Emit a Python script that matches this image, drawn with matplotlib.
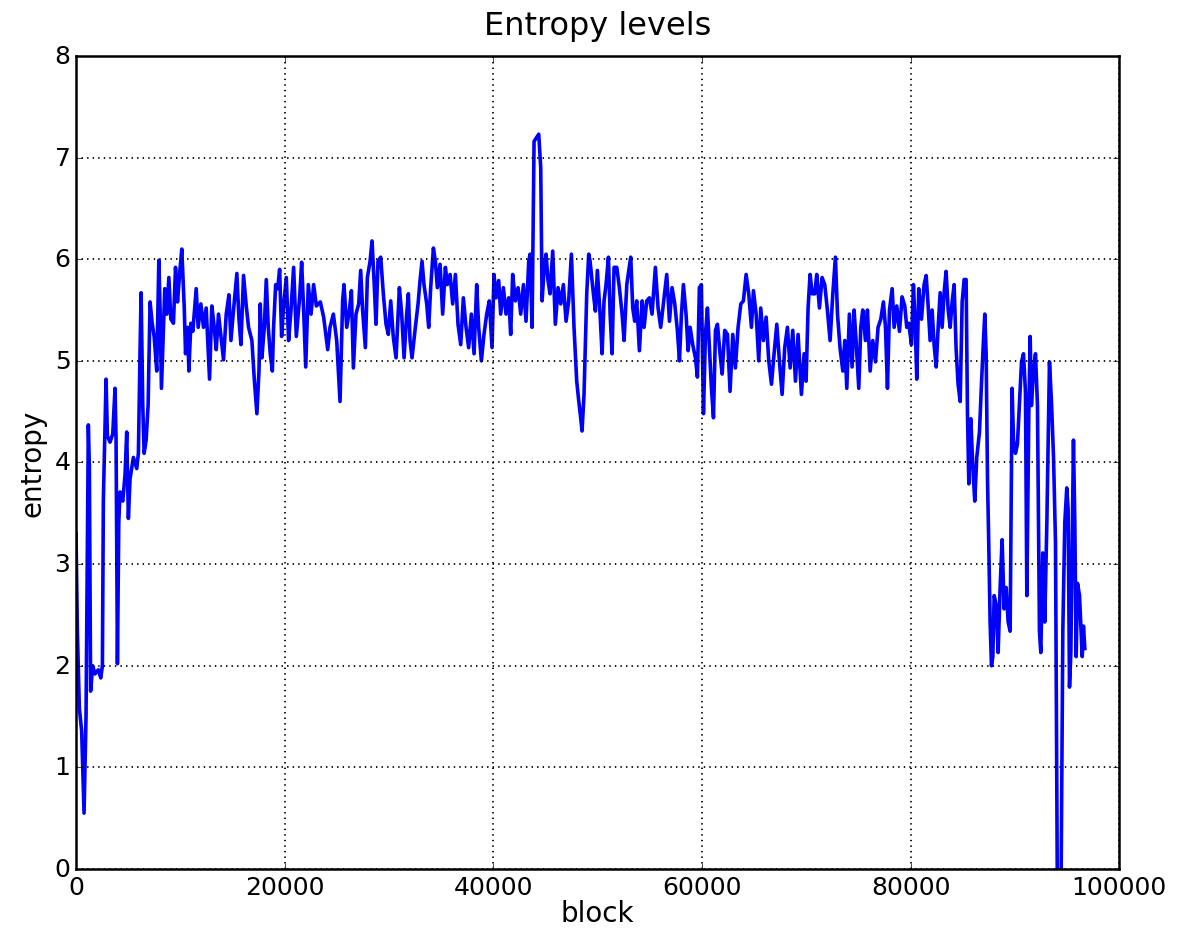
import matplotlib
matplotlib.use('Agg')
import matplotlib.pyplot as plt

# block positions and entropy values
blocks = [
    0, 130, 320, 540, 770, 960, 1180, 1280, 1400, 1600, 1820, 2140, 2370, 2530,
    2620, 2750, 2880, 3010, 3260, 3520, 3740, 3840, 3970, 4100, 4220, 4480,
    4700, 4860, 5020, 5180, 5500, 5820, 5980, 6140, 6240, 6400, 6530, 6720,
    6910, 7100, 7300, 7490, 7740, 7940, 8060, 8190, 8380, 8510, 8700, 8900,
    9090, 9340, 9540, 9730, 9920, 10140, 10370, 10500, 10690, 10820, 11010,
    11200, 11520, 11710, 11970, 12220, 12480, 12800, 13020, 13250, 13440,
    13660, 13890, 14140, 14400, 14660, 14850, 15100, 15420, 15620, 15810,
    16060, 16320, 16540, 16860, 17090, 17340, 17540, 17660, 17820, 18050,
    18240, 18430, 18620, 18820, 18940, 19140, 19330, 19520, 19710, 19900,
    20160, 20380, 20610, 20860, 21120, 21440, 21630, 21820, 22020, 22270,
    22530, 22780, 23040, 23420, 23740, 24130,
    24350, 24670, 24990, 25310, 25560, 25690, 25950, 26200, 26400, 26590,
    26840, 27100, 27290, 27480, 27740, 27930, 28190, 28380, 28570, 28760,
    28950, 29210, 29460, 29720, 29940, 30170, 30420, 30680, 31000, 31220,
    31450, 31700, 31860, 32020, 32210, 32530, 32790, 32980, 33170, 33360,
    33620, 33810, 34000, 34260, 34450, 34640, 34900, 35150, 35410, 35600,
    35860, 36110, 36370, 36620, 36880, 37130, 37390, 37640, 37900, 38160,
    38410, 38600, 38860, 39110, 39370, 39620, 39880, 40070, 40270, 40520,
    40710, 40970, 41220, 41480, 41670, 41860, 42120, 42380, 42630, 42890,
    43140, 43400, 43530, 43720, 43910, 44170, 44360, 44550, 44680, 44870,
    45060, 45250, 45440, 45700, 45950, 46210, 46470, 46720, 46980, 47230,
    47490, 47740, 48000, 48190, 48380, 48510, 48700, 48960, 49150,
    49280, 49600, 49790, 49980, 50240, 50430, 50620, 50810, 51040, 51200,
    51390, 51580, 51840, 52090, 52350, 52540, 52800, 52990, 53180, 53370,
    53560, 53750, 54010, 54270, 54460, 54710, 54970, 55220, 55540, 55800,
    56050, 56310, 56630, 56890, 57140, 57400, 57650, 57850, 58040, 58230,
    58480, 58680, 58870, 59120, 59380, 59570, 59760, 59950, 60150, 60340,
    60530, 60720, 60910, 61110, 61300, 61490, 61740, 61940, 62190, 62450,
    62700, 62960, 63210, 63470, 63730, 63980, 64240, 64490, 64750, 64940,
    65200, 65450, 65640, 65900, 66160, 66410, 66670, 66920, 67180, 67430,
    67690, 67940, 68200, 68460, 68710, 68970, 69220, 69540, 69800, 69990,
    70180, 70370, 70570, 70820, 71010, 71270, 71520, 71780, 72040, 72290,
    72550, 72800, 73000,
    73250, 73510, 73700, 73890, 74140, 74400, 74590, 74780, 75040, 75230,
    75420, 75680, 75870, 76130, 76380, 76640, 76890, 77150, 77400, 77600,
    77790, 77980, 78240, 78430, 78680, 78940, 79190, 79450, 79640, 79830,
    80090, 80280, 80470, 80600, 80790, 81050, 81300, 81500, 81690, 81880,
    82070, 82260, 82460, 82650, 82840, 83030, 83220, 83410, 83610, 83800,
    83990, 84180, 84370, 84560, 84760, 84950, 85140, 85330, 85460, 85590,
    85780, 85970, 86160, 86350, 86610, 86800, 86990, 87120, 87250, 87380,
    87500, 87630, 87760, 87890, 88020, 88210, 88400, 88590, 88780, 88970,
    89170, 89360, 89550, 89740, 89870, 90060, 90250, 90450, 90640, 90830,
    91020, 91150, 91340, 91470, 91590, 91790, 91980, 92170, 92360, 92490,
    92680, 92870, 93070, 93320, 93510, 93710, 93900, 94090, 94220, 94410,
    94600, 94790, 94980, 95110, 95240, 95370, 95500, 95620, 95750, 95880,
    96010, 96200, 96330, 96460, 96580, 96710,
]
entropy = [
    3.3, 2.34, 1.58, 1.36, 0.55, 1.5, 4.37, 3.96, 1.75, 2.0, 1.92, 1.96, 1.88,
    2.0, 3.62, 4.22, 4.82, 4.26, 4.2, 4.28, 4.73, 4.22, 2.02, 3.41, 3.71,
    3.62, 3.88, 4.3, 3.45, 3.84, 4.05, 3.94, 4.09, 5.11, 5.67, 4.56, 4.09,
    4.22, 4.56, 5.58, 5.37, 5.24, 4.9, 5.99, 5.5, 4.73, 5.33, 5.71, 5.46,
    5.82, 5.41, 5.37, 5.92, 5.58, 5.84, 6.1, 5.54, 5.07, 5.33, 4.9, 5.37,
    5.29, 5.71, 5.33, 5.56, 5.33, 5.52, 4.82, 5.54, 5.33, 5.11, 5.46, 5.24,
    5.01, 5.46, 5.65, 5.2, 5.5, 5.86, 5.41, 5.16, 5.84, 5.54, 5.33, 5.2,
    4.82, 4.48, 4.9, 5.56, 5.03, 5.33, 5.8, 5.33, 5.07, 4.9, 5.33, 5.75,
    5.71, 5.9, 5.24, 5.54, 5.82, 5.2, 5.5, 5.92, 5.24, 5.63, 5.97, 5.5,
    4.94, 5.75, 5.46, 5.75, 5.54, 5.58, 5.43, 5.11,
    5.33, 5.46, 5.2, 4.6, 5.59, 5.75, 5.33, 5.49, 5.69, 4.93, 5.46, 5.56,
    5.89, 5.49, 5.13, 5.82, 5.98, 6.18, 5.79, 5.36, 5.98, 6.02, 5.66, 5.36,
    5.26, 5.59, 5.23, 5.03, 5.72, 5.46, 5.03, 5.46, 5.66, 5.2, 5.03, 5.33,
    5.56, 5.79, 5.98, 5.75, 5.56, 5.33, 5.72, 6.11, 5.98, 5.72, 5.95, 5.46,
    5.92, 5.75, 5.85, 5.56, 5.85, 5.36, 5.16, 5.62, 5.33, 5.13, 5.46, 5.07,
    5.75, 5.33, 5.0, 5.26, 5.46, 5.59, 5.13, 5.85, 5.62, 5.79, 5.46, 5.72,
    5.46, 5.62, 5.26, 5.85, 5.59, 5.72, 5.46, 5.75, 5.39, 5.98, 6.05, 5.33,
    7.16, 7.2, 7.23, 6.9, 5.59, 5.89, 6.05, 5.79, 5.66, 6.08, 5.36, 5.72,
    5.56, 5.75, 5.39, 5.59, 6.05, 5.33, 4.8, 4.61, 4.44, 4.31, 4.67, 5.66,
    6.05,
    5.98, 5.66, 5.49, 5.89, 5.46, 5.07, 5.59, 5.75, 6.02, 5.46, 5.07, 5.92,
    5.92, 5.72, 5.46, 5.2, 5.75, 5.89, 6.02, 5.52, 5.39, 5.59, 5.1, 5.59,
    5.33, 5.59, 5.62, 5.46, 5.92, 5.52, 5.33, 5.56, 5.85, 5.39, 5.72, 5.56,
    5.3, 5.0, 5.46, 5.75, 5.46, 5.1, 5.33, 5.16, 5.03, 4.84, 5.72, 5.75,
    4.48, 5.26, 5.52, 5.13, 4.74, 4.44, 5.3, 5.36, 5.07, 4.87, 5.3, 5.26,
    4.7, 5.26, 4.93, 5.33, 5.56, 5.59, 5.85, 5.66, 5.33, 5.69, 5.46, 5.0,
    5.52, 5.2, 5.43, 5.0, 4.77, 5.07, 5.36, 5.0, 4.67, 5.13, 5.33, 4.93,
    5.3, 4.8, 5.26, 4.67, 5.07, 4.8, 5.52, 5.85, 5.66, 5.66, 5.85, 5.52,
    5.82, 5.75, 5.49, 5.2, 5.66, 6.02, 5.46,
    5.12, 4.9, 5.2, 4.73, 5.46, 4.94, 5.5, 5.2, 4.73, 5.33, 5.5, 5.2, 5.5,
    4.9, 5.2, 4.99, 5.33, 5.41, 5.58, 5.33, 4.73, 5.5, 5.71, 5.33, 5.54,
    5.29, 5.63, 5.54, 5.33, 5.37, 5.16, 5.75, 5.29, 4.82, 5.71, 5.41, 5.75,
    5.84, 5.54, 5.2, 5.5, 5.16, 4.94, 5.33, 5.67, 5.33, 5.67, 5.88, 5.5,
    5.33, 5.58, 5.75, 5.12, 4.77, 4.6, 5.58, 5.8, 5.8, 4.48, 3.79, 4.43,
    3.96, 3.62, 4.05, 4.3, 4.77, 5.2, 5.46, 5.07, 3.84, 3.2, 2.43, 2.0,
    2.09, 2.69, 2.6, 2.13, 2.77, 3.24, 2.56, 2.77, 2.43, 2.34, 4.73, 4.22,
    4.09, 4.18, 4.6, 4.99, 5.07, 4.69, 2.69, 4.48, 5.24, 4.56, 4.9, 5.07,
    4.56, 2.34, 2.13, 3.11, 2.43, 3.41, 4.99, 4.6, 4.05, 3.2, -0.5, -0.5,
    -0.5, 2.34, 3.41, 3.75, 3.54, 1.79, 2.13, 3.2, 4.22, 3.41, 2.09, 2.81,
    2.69, 2.39, 2.09, 2.39, 2.17,
]

plt.style.use('classic')
fig = plt.figure(figsize=(11.99, 9.37), dpi=100)
ax = fig.add_axes([0.0634, 0.0715, 0.87, 0.8677])
ax.plot(blocks, entropy, color='#0000ff', linewidth=2.6)
ax.set_xlim(0, 100000)
ax.set_ylim(0, 8)
ax.grid(True, color='black', linestyle=':', linewidth=1.3)
ax.tick_params(labelsize=18)
ax.set_title('Entropy levels', fontsize=23, pad=16)
ax.set_xlabel('block', fontsize=20, labelpad=0)
ax.set_ylabel('entropy', fontsize=20, labelpad=6)
for s in ax.spines.values():
    s.set_linewidth(1.8)

fig.savefig('out.png', dpi=100)
